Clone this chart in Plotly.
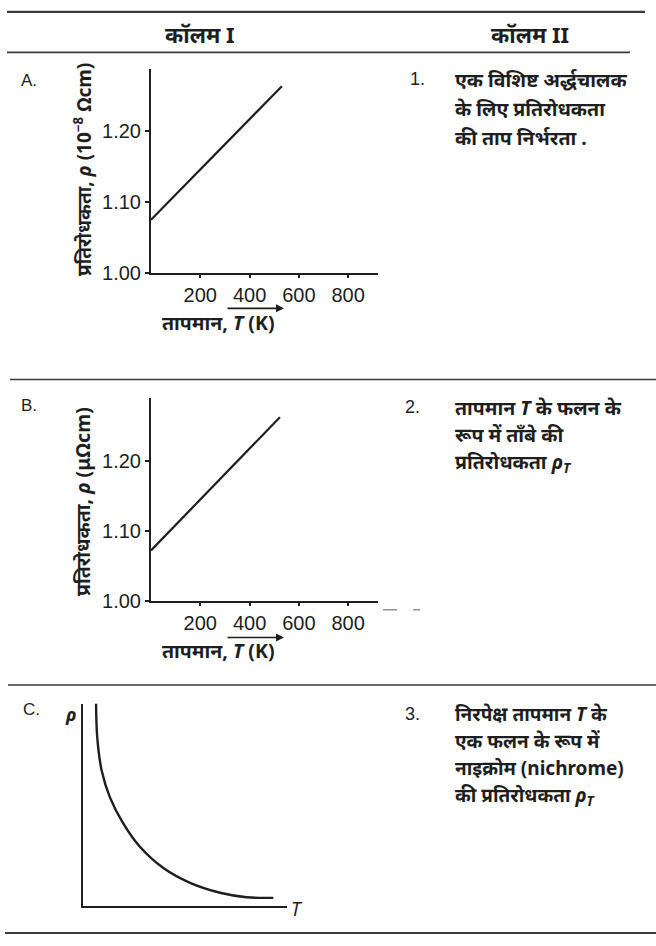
import plotly.graph_objects as go

W, H = 656, 946

# Panel A: resistivity of copper vs temperature (10^-8 Ωcm)
temp_a = [0, 531]
rho_a = [1.075, 1.264]
# Panel B: same relation in μΩcm
temp_b = [0, 523]
rho_b = [1.072, 1.262]
temp_ticks = [200, 400, 600, 800]
rho_ticks = [1.00, 1.10, 1.20]
# Panel C: semiconductor-like falling curve (arbitrary units)
temp_c = [0.64, 0.70, 0.92, 1.32, 1.98, 2.79, 3.94, 5.25, 6.72, 8.02, 9.33]
rho_c = [10.05, 8.31, 6.68, 5.38, 4.08, 2.94, 1.89, 1.16, 0.67, 0.45, 0.42]

col_headers = ["कॉलम I", "कॉलम II"]
item_1 = ["एक विशिष्ट अर्द्धचालक", "के लिए प्रतिरोधकता", "की ताप निर्भरता ."]
item_2 = ["तापमान <i>T</i> के फलन के", "रूप में ताँबे की", "प्रतिरोधकता <i>ρ<sub>T</sub></i>"]
item_3 = ["निरपेक्ष तापमान <i>T</i> के", "एक फलन के रूप में", "नाइक्रोम (nichrome)", "की प्रतिरोधकता <i>ρ<sub>T</sub></i>"]

INK = "#1e1e1e"
FONT = "Noto Sans, DejaVu Sans, Liberation Sans, sans-serif"
NUMF = "Liberation Sans, Arial, sans-serif"


def px(x):
    return x / W


def py(y):
    return 1 - y / H


fig = go.Figure()
fig.add_trace(go.Scatter(x=temp_a, y=rho_a, mode="lines", line=dict(color=INK, width=2.2),
                         xaxis="x", yaxis="y", showlegend=False))
fig.add_trace(go.Scatter(x=temp_b, y=rho_b, mode="lines", line=dict(color=INK, width=2.2),
                         xaxis="x2", yaxis="y2", showlegend=False))
fig.add_trace(go.Scatter(x=temp_c, y=rho_c, mode="lines", line=dict(color=INK, width=2.4, shape="spline"),
                         xaxis="x3", yaxis="y3", showlegend=False))

xcommon = dict(showgrid=False, zeroline=False, showline=True, linecolor=INK, linewidth=2,
               ticks="outside", ticklen=3, tickwidth=2, tickcolor=INK,
               tickvals=temp_ticks, range=[0, 921], fixedrange=True,
               tickfont=dict(family=NUMF, size=20, color=INK))
ycommon = dict(showgrid=False, zeroline=False, showline=True, linecolor=INK, linewidth=2,
               ticks="outside", ticklen=4, tickwidth=2, tickcolor=INK,
               tickvals=rho_ticks, tickformat=".2f", fixedrange=True,
               tickfont=dict(family=NUMF, size=20, color=INK))
plain = dict(showgrid=False, zeroline=False, showline=True, linecolor=INK, linewidth=2,
             showticklabels=False, ticks="", range=[0, 10], fixedrange=True)

fig.update_layout(
    width=W, height=H, margin=dict(l=0, r=0, t=0, b=0),
    paper_bgcolor="white", plot_bgcolor="white", showlegend=False,
    xaxis=dict(xcommon, domain=[px(151), px(378)], anchor="y"),
    yaxis=dict(ycommon, domain=[py(276), py(70)], range=[1.0, 1.288], anchor="x"),
    xaxis2=dict(xcommon, domain=[px(151), px(378)], anchor="y2"),
    yaxis2=dict(ycommon, domain=[py(608), py(403)], range=[1.0, 1.289], anchor="x2"),
    xaxis3=dict(plain, domain=[px(83), px(287)], anchor="y3"),
    yaxis3=dict(plain, domain=[py(917), py(712)], anchor="x3"),
)

# table rules
rules = [(7, 12, 645, 2.2), (7, 53, 630, 1.6), (10, 384, 656, 1.6), (8, 693, 656, 1.6), (5, 944, 656, 2.2)]
for x0, y0, x1, w in rules:
    fig.add_shape(type="line", xref="paper", yref="paper", x0=px(x0), x1=px(x1), y0=py(y0), y1=py(y0),
                  line=dict(color="#3a3a3a", width=w))
# small specks near panel B axis end
for x0, x1 in [(383, 397), (413, 420)]:
    fig.add_shape(type="line", xref="paper", yref="paper", x0=px(x0), x1=px(x1), y0=py(617), y1=py(617),
                  line=dict(color="#777", width=1.2))


def txt(x, y, s, size=15, anchor="left", bold=False, angle=0, family=FONT):
    fig.add_annotation(x=px(x), y=py(y), xref="paper", yref="paper", text=("<b>%s</b>" % s) if bold else s,
                       showarrow=False, xanchor=anchor, yanchor="middle", textangle=angle,
                       font=dict(family=family, size=size, color=INK))


# column headers
txt(200, 34, col_headers[0], size=22, anchor="center", bold=True)
txt(530, 34, col_headers[1], size=22, anchor="center", bold=True)

# panel letters
txt(19, 81, "A.", size=17, family=NUMF)
txt(19, 410, "B.", size=17, family=NUMF)
txt(21, 718, "C.", size=17, family=NUMF)

# y axis titles
txt(83, 172, "प्रतिरोधकता, <i>ρ</i> (10<sup>−8</sup> Ωcm)", size=19, anchor="center", angle=-90, bold=True)
txt(82, 508, "प्रतिरोधकता, <i>ρ</i> (μΩcm)", size=19.5, anchor="center", angle=-90, bold=True)

# x axis titles with arrows
for ylab, yarr in [(326, 312), (658, 645)]:
    txt(218, ylab, "तापमान, <i>T</i> (K)", size=19.5, anchor="center", bold=True)
    fig.add_annotation(x=px(284), y=py(yarr), xref="paper", yref="paper", ax=-58, ay=0,
                       axref="pixel", ayref="pixel", text="", showarrow=True,
                       arrowhead=2, arrowsize=1, arrowwidth=1.6, arrowcolor=INK)

# panel C axis letters
txt(71, 722, "<i>ρ</i>", size=18, anchor="center", bold=True)
txt(297, 920, "<i>T</i>", size=19, anchor="center")

# column II entries
txt(408, 80, "1.", size=18, family=NUMF)
for i, s in enumerate(item_1):
    txt(453, 80 + 29.5 * i, s, size=19.5, bold=True)
txt(403, 412, "2.", size=18, family=NUMF)
for i, s in enumerate(item_2):
    txt(453, 412 + 28 * i, s, size=19.5, bold=True)
txt(403, 722, "3.", size=18, family=NUMF)
for i, s in enumerate(item_3):
    txt(453, 722 + 27.7 * i, s, size=19, bold=True)

fig.write_html("out.html")
